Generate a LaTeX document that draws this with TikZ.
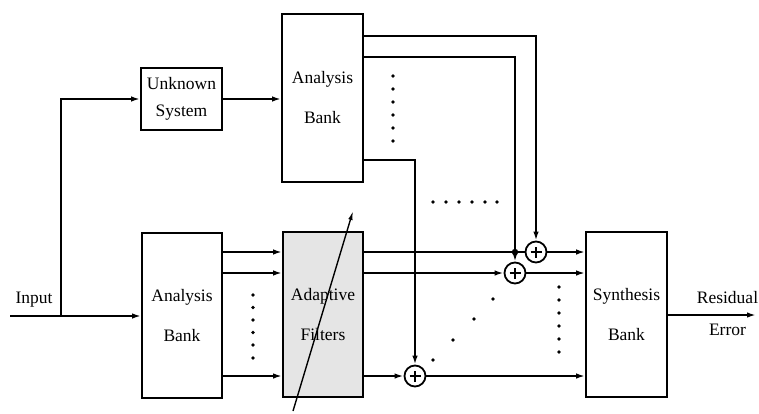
\documentclass[tikz,border=0pt]{standalone}
\usepackage{fontspec}
\setmainfont{Liberation Serif}
\usetikzlibrary{arrows.meta}
\begin{document}
\begin{tikzpicture}[x=1pt,y=-1pt,
  line width=1.8pt,
  box/.style={draw,rectangle,inner sep=0pt,align=center,font=\fontsize{17.5}{40}\selectfont},
  arr/.style={-{Latex[length=9pt,width=5.5pt]}},
  sumnode/.style={draw,circle,minimum size=21pt,inner sep=0pt,fill=white,
    path picture={\draw[line width=1.4pt] ([xshift=-5.5pt]path picture bounding box.center) -- ([xshift=5.5pt]path picture bounding box.center);
                  \draw[line width=1.4pt] ([yshift=-5.5pt]path picture bounding box.center) -- ([yshift=5.5pt]path picture bounding box.center);}},
  lbl/.style={font=\fontsize{17.5}{32}\selectfont,align=center,inner sep=0pt},
  dotmark/.style={fill=black}
]
\useasboundingbox (0,0) rectangle (759,413);

% blocks
\node[box,minimum width=81pt,minimum height=62pt,font=\fontsize{17.5}{27}\selectfont] (unk) at (181.5,99) {Unknown\\System};
\node[box,minimum width=81pt,minimum height=168pt] (abt) at (322.5,98) {Analysis\\Bank};
\node[box,minimum width=80pt,minimum height=165pt] (abb) at (182,315.5) {Analysis\\Bank};
\node[box,fill=black!10,minimum width=80pt,minimum height=165pt] (af) at (323,314.5) {Adaptive\\Filters};
\node[box,minimum width=81pt,minimum height=165pt] (sb) at (626.5,314.5) {Synthesis\\Bank};

% summing junctions
\node[sumnode] (s1) at (536,252) {};
\node[sumnode] (s2) at (515,273) {};
\node[sumnode] (s3) at (415,376) {};

% input
\coordinate (in) at (10,316);
\coordinate (br) at (61,316);
\node[lbl] (inl) at (34,300) {Input};
\draw[arr] (in) -- (in -| abb.west);
\draw[arr] (br) |- (unk.west);
\draw[arr] (unk.east) -- (unk.east -| abt.west);

% desired signals from top analysis bank
\coordinate (t1) at (536,36);
\coordinate (t2) at (515,57);
\coordinate (t3) at (415,160);
\draw[arr] (t1 -| abt.east) -| (s1.north);
\draw[arr] (t2 -| abt.east) -| (s2.north);
\draw[arr] (t3 -| abt.east) -| (s3.north);
\fill (s2 |- s1) circle (3.2pt);

% lower bank to adaptive filters
\draw[arr] (abb.east |- s1) -- (af.west |- s1);
\draw[arr] (abb.east |- s2) -- (af.west |- s2);
\draw[arr] (abb.east |- s3) -- (af.west |- s3);

% adaptive filters to summing junctions
\draw (af.east |- s1) -- (s1.west);
\draw[arr] (af.east |- s2) -- (s2.west);
\draw[arr] (af.east |- s3) -- (s3.west);

% summing junctions to synthesis bank
\draw[arr] (s1.east) -- (s1 -| sb.west);
\draw[arr] (s2.east) -- (s2 -| sb.west);
\draw[arr] (s3.east) -- (s3 -| sb.west);

% output
\coordinate (out) at (756,315);
\draw[arr] (sb.east |- out) -- (out);
\node[lbl,anchor=east] (res) at (759,314) {Residual\\Error};

% adaptation arrow
\coordinate (d1) at (293,411);
\coordinate (d2) at (353,211);
\draw[line width=1.4pt,-{Latex[length=9pt,width=4.5pt]}] (d1) -- (d2);

% dots
\foreach \y in {76,89,102,115,128,141} \fill[dotmark] (393,\y) circle (1.8pt);
\foreach \x in {433,446,459,472,485,497} \fill[dotmark] (\x,202) circle (1.8pt);
\foreach \y in {295,307.5,320,332.5,345,358} \fill[dotmark] (253,\y) circle (1.8pt);
\foreach \y in {287,300,313,326,339,352} \fill[dotmark] (559,\y) circle (1.8pt);
\foreach \x/\y in {433/360,453/340,474/319,493/299} \fill[dotmark] (\x,\y) circle (1.8pt);
\end{tikzpicture}
\end{document}
